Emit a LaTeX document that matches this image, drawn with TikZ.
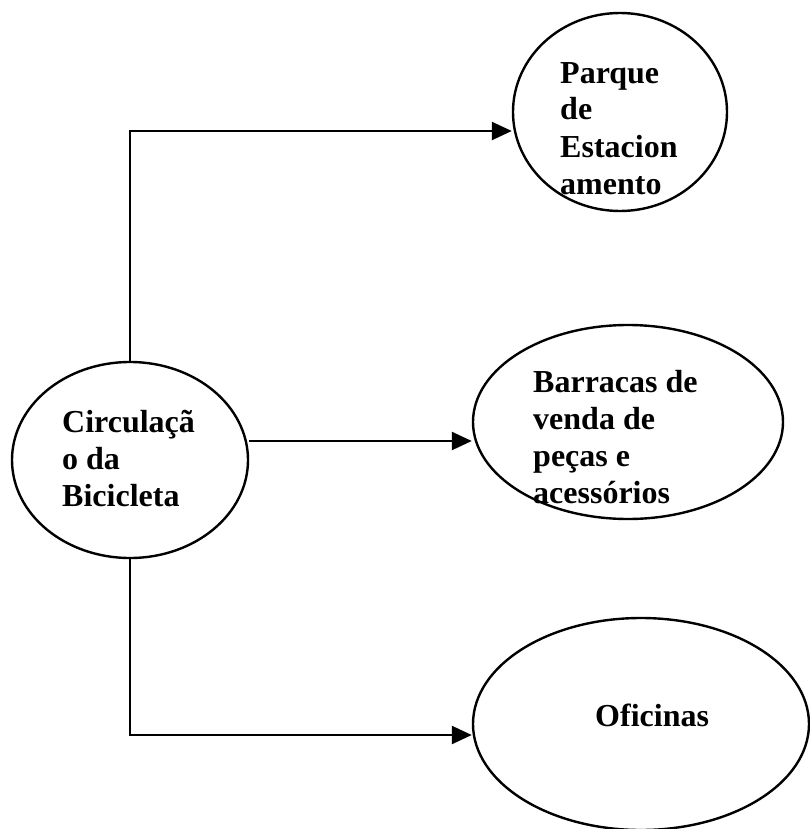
\documentclass[tikz,border=0pt]{standalone}
\usepackage{fontspec}
\setmainfont{Liberation Serif}
\usetikzlibrary{arrows.meta,shapes.geometric}

\begin{document}
\begin{tikzpicture}[x=1pt, y=-1pt,
    bubble/.style={draw, ellipse, line width=2.4pt, inner sep=0pt},
    txt/.style={font=\fontsize{32}{37}\selectfont\bfseries, align=left,
                inner sep=0pt, anchor=base west},
    arr/.style={-{Triangle[length=20pt,width=18pt]}, line width=2.4pt}
  ]
    \useasboundingbox (0,0) rectangle (810,829);

    \node[bubble, minimum width=236pt, minimum height=196pt] (circ)     at (130,460) {};
    \node[bubble, minimum width=214pt, minimum height=198pt] (parque)   at (620,112) {};
    \node[bubble, minimum width=310pt, minimum height=194pt] (barracas) at (628,422) {};
    \node[bubble, minimum width=336pt, minimum height=212pt] (oficinas) at (641,724) {};

    % base = baseline of the last line
    \node[txt] (circtxt)     at (62,506)  {Circulaçã\\o da\\Bicicleta};
    \node[txt] (parquetxt)   at (560,194) {Parque\\de\\Estacion\\amento};
    \node[txt] (barracastxt) at (533,503) {Barracas de\\venda de\\peças e\\acessórios};
    \node[txt] (oficinastxt) at (595,726) {Oficinas};

    \draw[arr] (circ.north) |- ([yshift=-19pt]parque.west);
    \draw[arr] ([yshift=19pt]circ.east) -- ([yshift=-19pt]barracas.west);
    \draw[arr] (circ.south) |- ([yshift=-11pt]oficinas.west);
  \end{tikzpicture}
\end{document}
